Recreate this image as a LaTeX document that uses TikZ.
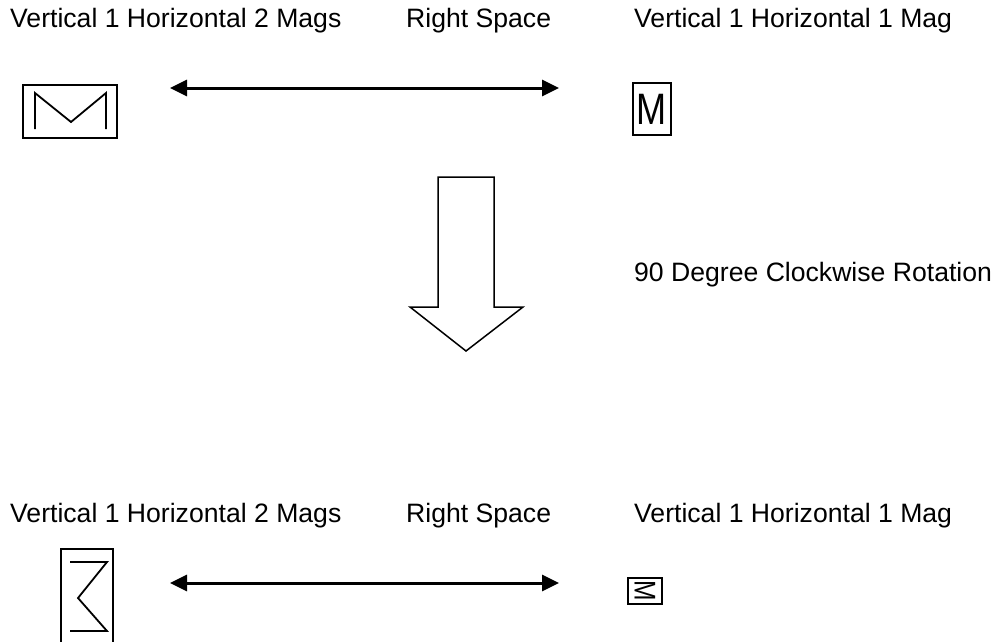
\documentclass[tikz,border=0pt]{standalone}
\usepackage{fontspec}
\setmainfont{Liberation Sans}
\usetikzlibrary{arrows.meta}
\begin{document}
\begin{tikzpicture}[x=1pt,y=-1pt,
  lbl/.style={anchor=base west,inner sep=0pt,font=\fontsize{26.6}{30}\selectfont},
  dbl/.style={line width=3pt,{Triangle[length=17pt,width=16pt]}-{Triangle[length=17pt,width=16pt]}},
  framebox/.style={draw,line width=2pt,inner sep=0pt},
  glyph/.style={line width=1.8pt,line join=miter},
  bigarrow/.style={draw,line width=1.5pt,line join=miter,fill=white}
]
\useasboundingbox (0,0) rectangle (997,641);
\clip (0,0) rectangle (997,641);

% top labels
\node[lbl] (t1) at (10,27) {Vertical 1 Horizontal 2 Mags};
\node[lbl] (t2) at (406,27) {Right Space};
\node[lbl] (t3) at (634,27) {Vertical 1 Horizontal 1 Mag};

% top-left box with M glyph
\node[framebox,minimum width=94pt,minimum height=53pt] (tl) at (70,111.5) {};
\draw[glyph] (35,129) -- (35,93) -- (71,122) -- (106,93) -- (106,129);

% top double arrow
\coordinate (al) at (170,88);
\coordinate (ar) at (559,88);
\draw[dbl] (al) -- (ar);

% M box
\node[framebox,line width=2.5pt,minimum width=38pt,minimum height=52pt,
      font=\fontsize{44}{44}\selectfont] (tm) at (652,109) {\scalebox{0.82}[1]{M}};

% big down arrow
\draw[bigarrow] (438,177) -- (494,177) -- (494,307) -- (523,307) -- (466,351)
  -- (410,307) -- (438,307) -- cycle;
\node[lbl] (rot) at (634,281) {90 Degree Clockwise Rotation};

% bottom labels
\node[lbl] (b1) at (10,522) {Vertical 1 Horizontal 2 Mags};
\node[lbl] (b2) at (406,522) {Right Space};
\node[lbl] (b3) at (634,522) {Vertical 1 Horizontal 1 Mag};

% bottom-left rotated box
\node[framebox,minimum width=52pt,minimum height=94pt] (bl) at (87,596) {};
\draw[glyph] (70,562) -- (107,562) -- (78,598) -- (107,631) -- (70,631);

% bottom double arrow
\coordinate (bll) at (170,583);
\coordinate (blr) at (559,583);
\draw[dbl] (bll) -- (blr);

% small rotated M box
\node[framebox,rotate=-90,minimum width=26pt,minimum height=34pt,
      font=\fontsize{30}{30}\selectfont] (bm) at (645,591) {\scalebox{0.82}[1]{M}};
\end{tikzpicture}
\end{document}
